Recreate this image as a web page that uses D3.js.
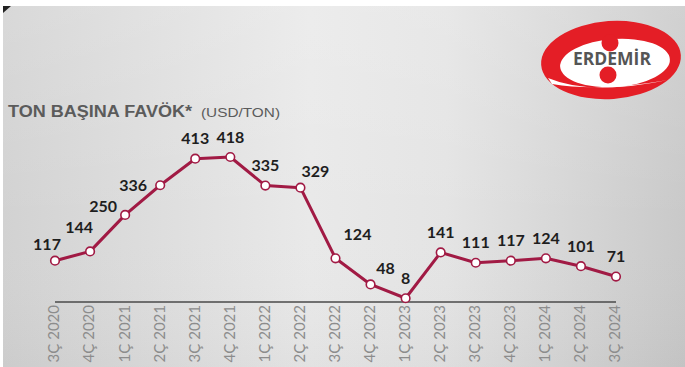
<!DOCTYPE html>
<html>
<head>
<meta charset="utf-8">
<script src="https://cdn.jsdelivr.net/npm/d3@7"></script>
<style>
  html, body { margin: 0; padding: 0; background: #fff; }
  svg { display: block; }
</style>
</head>
<body>
<div id="chart"></div>
<script>
// quarters and values (USD/ton)
const quarters = ["3Ç 2020", "4Ç 2020", "1Ç 2021", "2Ç 2021", "3Ç 2021", "4Ç 2021",
    "1Ç 2022", "2Ç 2022", "3Ç 2022", "4Ç 2022", "1Ç 2023", "2Ç 2023", "3Ç 2023",
    "4Ç 2023", "1Ç 2024", "2Ç 2024", "3Ç 2024"]
const values = [117, 144, 250, 336, 413, 418, 335, 329, 124, 48, 8, 141, 111, 117, 124, 101, 71]
// where each value label sits relative to its point
const labelSide = ["upleft", "upleft2", "leftup", "left", "up", "up", "up", "upright", "upright2",
    "upright", "up", "up", "up", "up", "up", "up", "up"]

const width = 685, height = 367
const margin = {top: 6, left: 3}

const svg = d3.select("#chart")
    .append("svg")
    .attr("width", width)
    .attr("height", height)

// silver background
const defs = svg.append("defs")
const grad = defs.append("linearGradient").attr("id", "bg")
    .attr("x1", "0%").attr("x2", "100%").attr("y1", "0%").attr("y2", "0%")
grad.append("stop").attr("offset", "0%").attr("stop-color", "#d2d2d2")
grad.append("stop").attr("offset", "45%").attr("stop-color", "#e9e9e9")
grad.append("stop").attr("offset", "65%").attr("stop-color", "#e4e4e4")
grad.append("stop").attr("offset", "100%").attr("stop-color", "#c9c9c9")
const vgrad = defs.append("linearGradient").attr("id", "bgv")
    .attr("x1", "0%").attr("x2", "0%").attr("y1", "0%").attr("y2", "100%")
vgrad.append("stop").attr("offset", "0%").attr("stop-color", "#fff").attr("stop-opacity", 0.15)
vgrad.append("stop").attr("offset", "60%").attr("stop-color", "#fff").attr("stop-opacity", 0)
vgrad.append("stop").attr("offset", "100%").attr("stop-color", "#000").attr("stop-opacity", 0.03)

svg.append("rect")
    .attr("x", margin.left).attr("y", margin.top)
    .attr("width", width - margin.left).attr("height", height - margin.top)
    .attr("fill", "url(#bg)")
svg.append("rect")
    .attr("x", margin.left).attr("y", margin.top)
    .attr("width", width - margin.left).attr("height", height - margin.top)
    .attr("fill", "url(#bgv)")
svg.append("path")
    .attr("d", "M3,6 L11,6 L3,13 Z")
    .attr("fill", "#222")

// title
svg.append("text")
    .attr("x", 8).attr("y", 117)
    .attr("textLength", 184)
    .attr("lengthAdjust", "spacingAndGlyphs")
    .style("font-family", "'Liberation Sans', Arial, sans-serif")
    .style("font-weight", "bold").style("font-size", "16px")
    .style("fill", "#5b5b5b")
    .text("TON BAŞINA FAVÖK*")
svg.append("text")
    .attr("x", 201).attr("y", 117)
    .attr("textLength", 79)
    .attr("lengthAdjust", "spacingAndGlyphs")
    .style("font-family", "'Liberation Sans', Arial, sans-serif")
    .style("font-size", "13.5px")
    .style("fill", "#5b5b5b")
    .text("(USD/TON)")

// logo
const logo = svg.append("g")
logo.append("ellipse")
    .attr("cx", 611).attr("cy", 60).attr("rx", 70).attr("ry", 39)
    .attr("transform", "rotate(-4 611 60)")
    .attr("fill", "#e41e26")
logo.append("ellipse")
    .attr("cx", 615).attr("cy", 63).attr("rx", 55).attr("ry", 24)
    .attr("transform", "rotate(-4 615 63)")
    .attr("fill", "#fff")
logo.append("path")
    .attr("d", "M548,78 Q590,96 668,80 Q600,92 552,84 Z")
    .attr("fill", "#fff")
logo.append("circle").attr("cx", 610).attr("cy", 43).attr("r", 8.5).attr("fill", "#e41e26")
logo.append("circle").attr("cx", 608).attr("cy", 75).attr("r", 8.5).attr("fill", "#e41e26")
logo.append("text")
    .attr("x", 612).attr("y", 65)
    .attr("text-anchor", "middle")
    .style("font-family", "'Open Sans', sans-serif")
    .style("font-weight", "bold")
    .style("font-size", "17.5px")
    .style("fill", "#555")
    .text("ERDEMİR")

// scales
const x = d3.scalePoint()
    .domain(quarters)
    .range([55, 616])
const y = d3.scaleLinear()
    .domain([0, 418])
    .range([301, 157])

// baseline
svg.append("line")
    .attr("x1", x(quarters[0])).attr("x2", x(quarters[quarters.length - 1]))
    .attr("y1", y(0) + 1).attr("y2", y(0) + 1)
    .style("stroke", "#4a4a4a")
    .style("stroke-width", 1.6)

// x labels, rotated
svg.selectAll(".xlab")
    .data(quarters)
    .enter()
    .append("text")
    .attr("class", "xlab")
    .attr("transform", d => "translate(" + (x(d) - 1) + "," + 305 + ") rotate(-90)")
    .attr("text-anchor", "end")
    .attr("dy", "0.36em")
    .style("font-family", "Lato, sans-serif")
    .style("font-size", "15px")
    .style("fill", "#8c8c8c")
    .text(d => d)

// line
const data = quarters.map((q, i) => ({q: q, v: values[i], side: labelSide[i]}))
svg.append("path")
    .datum(data)
    .attr("d", d3.line().x(d => x(d.q)).y(d => y(d.v)))
    .style("fill", "none")
    .style("stroke", "#a11a44")
    .style("stroke-width", 3)
    .style("stroke-linejoin", "round")

svg.selectAll(".pt")
    .data(data)
    .enter()
    .append("circle")
    .attr("class", "pt")
    .attr("cx", d => x(d.q))
    .attr("cy", d => y(d.v))
    .attr("r", 4.3)
    .style("fill", "#fff")
    .style("stroke", "#a11a44")
    .style("stroke-width", 1.6)

// value labels
const offsets = {
    up: [0, -20], upleft: [-8, -16], upleft2: [-11, -24], leftup: [-22, -8], left: [-27, 0],
    upright: [15, -16], upright2: [22, -24]
}
svg.selectAll(".val")
    .data(data)
    .enter()
    .append("text")
    .attr("class", "val")
    .attr("x", d => x(d.q) + offsets[d.side][0])
    .attr("y", d => y(d.v) + offsets[d.side][1])
    .attr("text-anchor", "middle")
    .attr("dy", "0.35em")
    .style("font-family", "Lato, sans-serif")
    .style("font-weight", "bold")
    .style("font-size", "16px")
    .style("fill", "#1e1e1e")
    .text(d => d.v)
</script>
</body>
</html>
